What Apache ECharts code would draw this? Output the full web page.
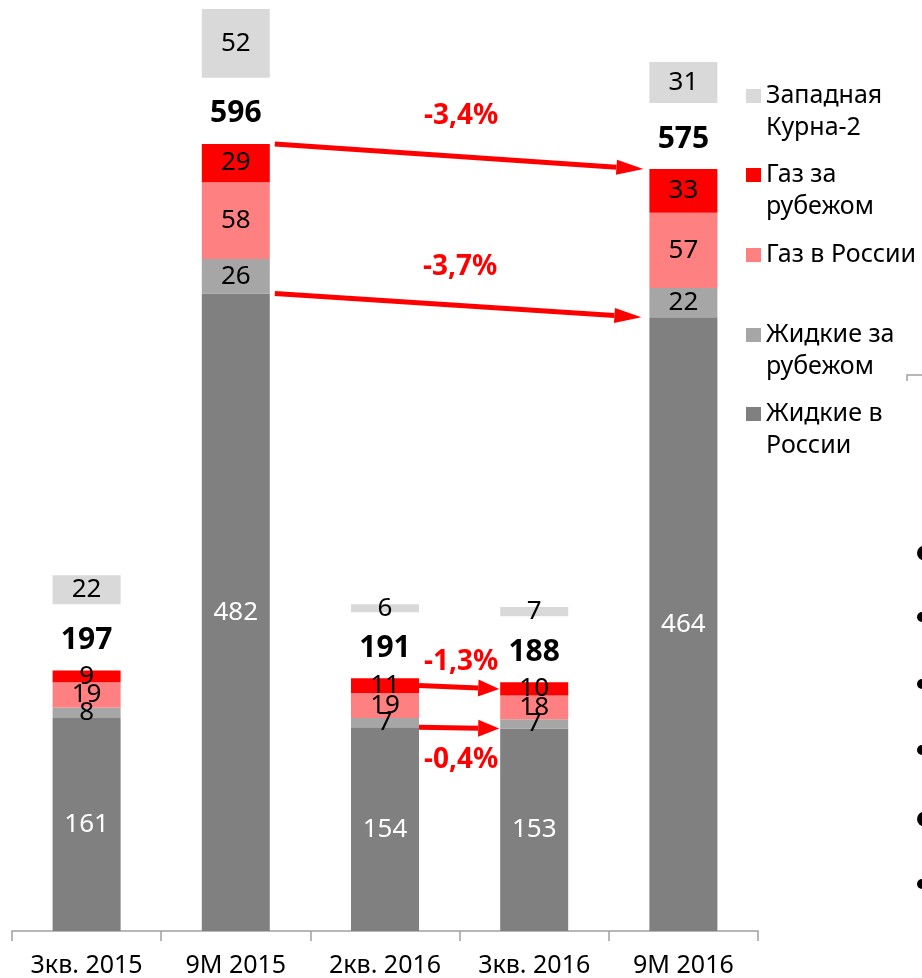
<!DOCTYPE html>
<html>
<head>
<meta charset="utf-8">
<script src="https://cdn.jsdelivr.net/npm/echarts@6/dist/echarts.min.js"></script>
<style>
html, body { margin: 0; padding: 0; background: #fff; }
#chart { width: 922px; height: 978px; }
</style>
</head>
<body>
<div id="chart"></div>
<script>
// категории и значения по сегментам
var categories = ['3кв. 2015', '9М 2015', '2кв. 2016', '3кв. 2016', '9М 2016'];
var liquidRu = [161, 482, 154, 153, 464];
var liquidAbroad = [8, 26, 7, 7, 22];
var gasRu = [19, 58, 19, 18, 57];
var gasAbroad = [9, 29, 11, 10, 33];
var westQurna = [22, 52, 6, 7, 31];
var totals = [197, 596, 191, 188, 575];
var changes = ['-3,4%', '-3,7%', '-1,3%', '-0,4%'];

var FONT = 'Noto Sans';
var GAP = 50;        // пустой промежуток под итоговую подпись
var BAR_W = 68;

var legendText = {
	'Западная Курна-2': 'Западная\nКурна-2',
	'Газ за рубежом': 'Газ за\nрубежом',
	'Газ в России': 'Газ в России',
	'Жидкие за рубежом': 'Жидкие за\nрубежом',
	'Жидкие в России': 'Жидкие в\nРоссии'
};

function seg(name, data, color, labelColor) {
	return {
		name: name,
		type: 'bar',
		stack: 'all',
		barWidth: BAR_W,
		data: data,
		itemStyle: { color: color },
		emphasis: { disabled: true },
		label: {
			show: true,
			position: 'inside',
			color: labelColor,
			fontFamily: FONT,
			fontSize: 26
		}
	};
}

// легенда: отдельный блок на каждый пункт, квадрат на уровне первой строки
// (пустая строка сверху, чтобы первая строка текста встала по центру значка)
function legendItem(name, iconY, twoLine) {
	return {
		data: [name],
		left: 746,
		top: twoLine ? iconY - 48 : iconY - 16,
		padding: 0,
		itemWidth: 15,
		itemHeight: 14,
		icon: 'rect',
		selectedMode: false,
		formatter: function(n) {
			return twoLine ? '\u00a0\n' + legendText[n] : legendText[n];
		},
		textStyle: {
			color: '#000',
			fontFamily: FONT,
			fontSize: 25,
			lineHeight: 32
		}
	};
}

var myChart = echarts.init(document.getElementById('chart'));

var option = {
	animation: false,
	grid: { left: 12, right: 164, top: 5, bottom: 46 },
	legend: [
		legendItem('Западная Курна-2', 96, true),
		legendItem('Газ за рубежом', 175, true),
		legendItem('Газ в России', 255, false),
		legendItem('Жидкие за рубежом', 335, true),
		legendItem('Жидкие в России', 414, true)
	],
	xAxis: {
		type: 'category',
		data: categories,
		axisLine: { lineStyle: { color: '#a0a0a0', width: 1.5 } },
		axisTick: { show: true, length: 10, lineStyle: { color: '#a0a0a0', width: 1.5 } },
		axisLabel: { color: '#000', fontFamily: FONT, fontSize: 25, margin: 22, interval: 0 }
	},
	yAxis: { type: 'value', min: 0, max: 700, show: false, splitLine: { show: false } },
	series: [
		seg('Жидкие в России', liquidRu, '#808080', '#fff'),
		seg('Жидкие за рубежом', liquidAbroad, '#a6a6a6', '#000'),
		seg('Газ в России', gasRu, '#ff8080', '#000'),
		seg('Газ за рубежом', gasAbroad, '#ff0000', '#000'),
		{
			name: 'spacer',
			type: 'bar',
			stack: 'all',
			barWidth: BAR_W,
			data: categories.map(function() { return GAP; }),
			itemStyle: { color: 'rgba(0,0,0,0)' },
			emphasis: { disabled: true },
			label: {
				show: true,
				position: 'inside',
				offset: [0, 3],
				color: '#000',
				fontFamily: FONT,
				fontWeight: 'bold',
				fontSize: 30,
				formatter: function(p) { return totals[p.dataIndex]; }
			}
		},
		seg('Западная Курна-2', westQurna, '#d9d9d9', '#000')
	]
};
myChart.setOption(option);

// стрелки изменений
function px(i, v) {
	return myChart.convertToPixel({ xAxisIndex: 0, yAxisIndex: 0 }, [i, v]);
}
function arrow(p0, p1, w, headLen, headW) {
	var dx = p1[0] - p0[0], dy = p1[1] - p0[1];
	var len = Math.sqrt(dx * dx + dy * dy);
	var ux = dx / len, uy = dy / len;
	var bx = p1[0] - ux * headLen, by = p1[1] - uy * headLen;
	var nx = -uy, ny = ux;
	return [
		{ type: 'line', shape: { x1: p0[0], y1: p0[1], x2: bx, y2: by }, style: { stroke: '#ff0000', lineWidth: w } },
		{ type: 'polygon', shape: { points: [[p1[0], p1[1]], [bx + nx * headW / 2, by + ny * headW / 2], [bx - nx * headW / 2, by - ny * headW / 2]] }, style: { fill: '#ff0000' } }
	];
}
function stackTop(i) {
	return liquidRu[i] + liquidAbroad[i] + gasRu[i] + gasAbroad[i];
}

var half = BAR_W / 2;
var specs = [
	{ from: 1, to: 4, v0: stackTop(1), v1: stackTop(4), pad0: 5, pad1: 6, head: 27, hw: 15, dy: -40, text: changes[0] },
	{ from: 1, to: 4, v0: liquidRu[1], v1: liquidRu[4], pad0: 5, pad1: 8, head: 27, hw: 15, dy: -38, text: changes[1] },
	{ from: 2, to: 3, v0: stackTop(2) - gasAbroad[2] / 2, v1: stackTop(3) - gasAbroad[3] / 2, pad0: 0, pad1: 1, head: 21, hw: 17, dy: -25, text: changes[2] },
	{ from: 2, to: 3, v0: liquidRu[2], v1: liquidRu[3], pad0: 0, pad1: 1, head: 21, hw: 17, dy: 32, text: changes[3] }
];

var graphics = [];
specs.forEach(function(s) {
	var a = px(s.from, s.v0), b = px(s.to, s.v1);
	var p0 = [a[0] + half + s.pad0, a[1]];
	var p1 = [b[0] - half - s.pad1, b[1]];
	graphics = graphics.concat(arrow(p0, p1, 5, s.head, s.hw));
	graphics.push({
		type: 'text',
		x: (p0[0] + p1[0]) / 2 + 2,
		y: (p0[1] + p1[1]) / 2 + s.dy,
		style: {
			text: s.text,
			fill: '#ff0000',
			font: 'bold 28px "Noto Sans"',
			align: 'center',
			verticalAlign: 'middle'
		}
	});
});

// обрезанные элементы соседнего блока слайда
graphics.push({ type: 'polyline', shape: { points: [[907, 381], [907, 375], [922, 375]] }, style: { stroke: '#a0a0a0', lineWidth: 1.5 } });
[[553, 7.5], [617, 5], [684, 5], [750, 5], [819, 7.5], [884, 5]].forEach(function(d) {
	graphics.push({ type: 'circle', shape: { cx: 917 + d[1], cy: d[0], r: d[1] }, style: { fill: '#000' } });
});

myChart.setOption({ graphic: graphics });
window.onresize = myChart.resize;
</script>
</body>
</html>
